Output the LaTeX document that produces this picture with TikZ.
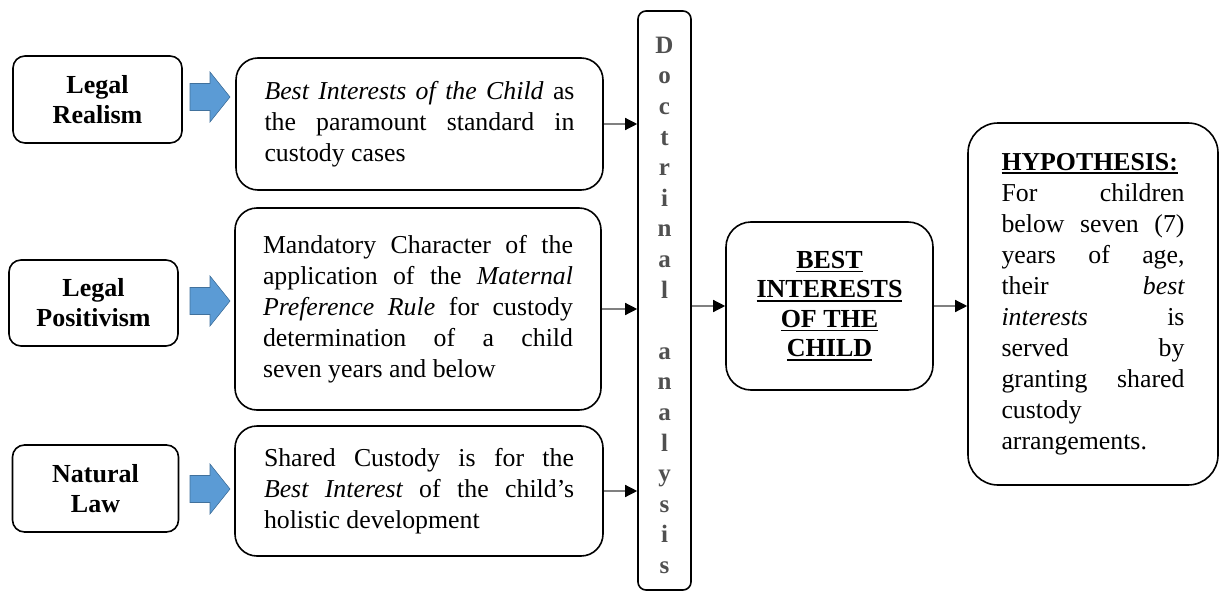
\documentclass[tikz,border=0pt]{standalone}
\usepackage{fontspec}
\setmainfont{Liberation Serif}
\usetikzlibrary{arrows.meta}
\setlength{\parindent}{0pt}
\definecolor{arrowblue}{HTML}{5B9BD5}
\definecolor{arrowedge}{HTML}{41719C}
\definecolor{lineg}{HTML}{808080}
\definecolor{docgray}{HTML}{505050}
\newcommand{\myul}[1]{\setbox0\hbox{#1}\leavevmode\rlap{\rule[-4pt]{\wd0}{1.8pt}}\box0}
\begin{document}
\begin{tikzpicture}[x=1pt,y=-1pt,
  font=\fontsize{25.8}{31}\selectfont,
  theory/.style={draw, line width=1.6pt, rounded corners=12pt, minimum height=87pt,
    align=center, font=\fontsize{26}{30}\selectfont\bfseries, inner sep=0pt},
  stmt/.style={draw, line width=1.6pt, rounded corners=22pt, text width=310pt,
    align=justify, inner sep=0pt},
  docbox/.style={draw, line width=1.6pt, rounded corners=8pt, minimum width=53pt,
    minimum height=579pt, inner sep=0pt},
  docletter/.style={anchor=base, font=\fontsize{25}{30}\selectfont\bfseries,
    text=docgray, inner sep=0pt},
  bestbox/.style={draw, line width=1.6pt, rounded corners=25pt, minimum width=207pt,
    minimum height=168pt, align=center, font=\fontsize{26}{29.5}\selectfont\bfseries, inner sep=0pt},
  hypbox/.style={draw, line width=1.6pt, rounded corners=30pt, minimum width=250pt,
    minimum height=362pt, text width=183pt, align=justify, inner sep=0pt},
  conn/.style={draw=lineg, line width=1.3pt, -{Triangle[length=12pt,width=12pt,color=black]}},
  bluearrow/.style={fill=arrowblue, draw=arrowedge, line width=0.6pt}
]
\useasboundingbox (0,0) rectangle (1222,591);
\fill[white] (0,0) rectangle (1222,591);

% theories
\node[theory, minimum width=169pt] (realism) at (97.5,99.5) {Legal\\Realism};
\node[theory, minimum width=169pt, minimum height=86pt] (positivism) at (93.5,303) {Legal\\Positivism};
\node[theory, minimum width=166pt] (natural) at (95.5,488.5) {Natural\\Law};

% blue arrows
\foreach \c in {97,301,489} {
  \draw[bluearrow] (190,\c-13.5) -- (210,\c-13.5) -- (210,\c-25) -- (230,\c)
    -- (210,\c+25) -- (210,\c+13.5) -- (190,\c+13.5) -- cycle;
}

% statements
\node[stmt, minimum width=367pt, minimum height=132pt] (box1) at (419.5,124)
  {{\itshape Best Interests of the Child} as\linebreak the paramount standard in\linebreak custody cases};
\node[stmt, minimum width=366pt, minimum height=202pt] (box2) at (418,309)
  {Mandatory Character of the\linebreak application of the {\itshape Maternal}\linebreak
   {\itshape Preference Rule} for custody\linebreak determination of a child\linebreak seven years and below};
\node[stmt, minimum width=368pt, minimum height=130pt] (box3) at (419,491)
  {Shared Custody is for the\linebreak {\itshape Best Interest} of the child’s\linebreak holistic development};

% doctrinal analysis column
\node[docbox] (doc) at (664.5,300.5) {};
\foreach \ch/\k in {D/1,o/2,c/3,t/4,r/5,i/6,n/7,a/8,l/9,a/11,n/12,a/13,l/14,y/15,s/16,i/17,s/18}
  \node[docletter] (dl\k) at (664.5,22.7+30.6*\k) {\ch};

% best interests
\node[bestbox] (best) at (829.5,306)
  {\myul{BEST}\\\myul{INTERESTS}\\\myul{OF THE}\\\myul{CHILD}};

% hypothesis
\node[hypbox] (hyp) at (1093,304)
  {\myul{\textbf{HYPOTHESIS:}}\newline For children\linebreak below seven (7)\linebreak
   years of age,\linebreak their {\itshape best}\linebreak {\itshape interests} is\linebreak
   served by\linebreak granting shared\linebreak custody\newline arrangements.};

% connectors
\draw[conn] (box1.east) -- (box1.east -| doc.west);
\draw[conn] (box2.east) -- (box2.east -| doc.west);
\draw[conn] (box3.east) -- (box3.east -| doc.west);
\draw[conn] (best.west -| doc.east) -- (best.west);
\draw[conn] (best.east) -- (best.east -| hyp.west);
\end{tikzpicture}
\end{document}
